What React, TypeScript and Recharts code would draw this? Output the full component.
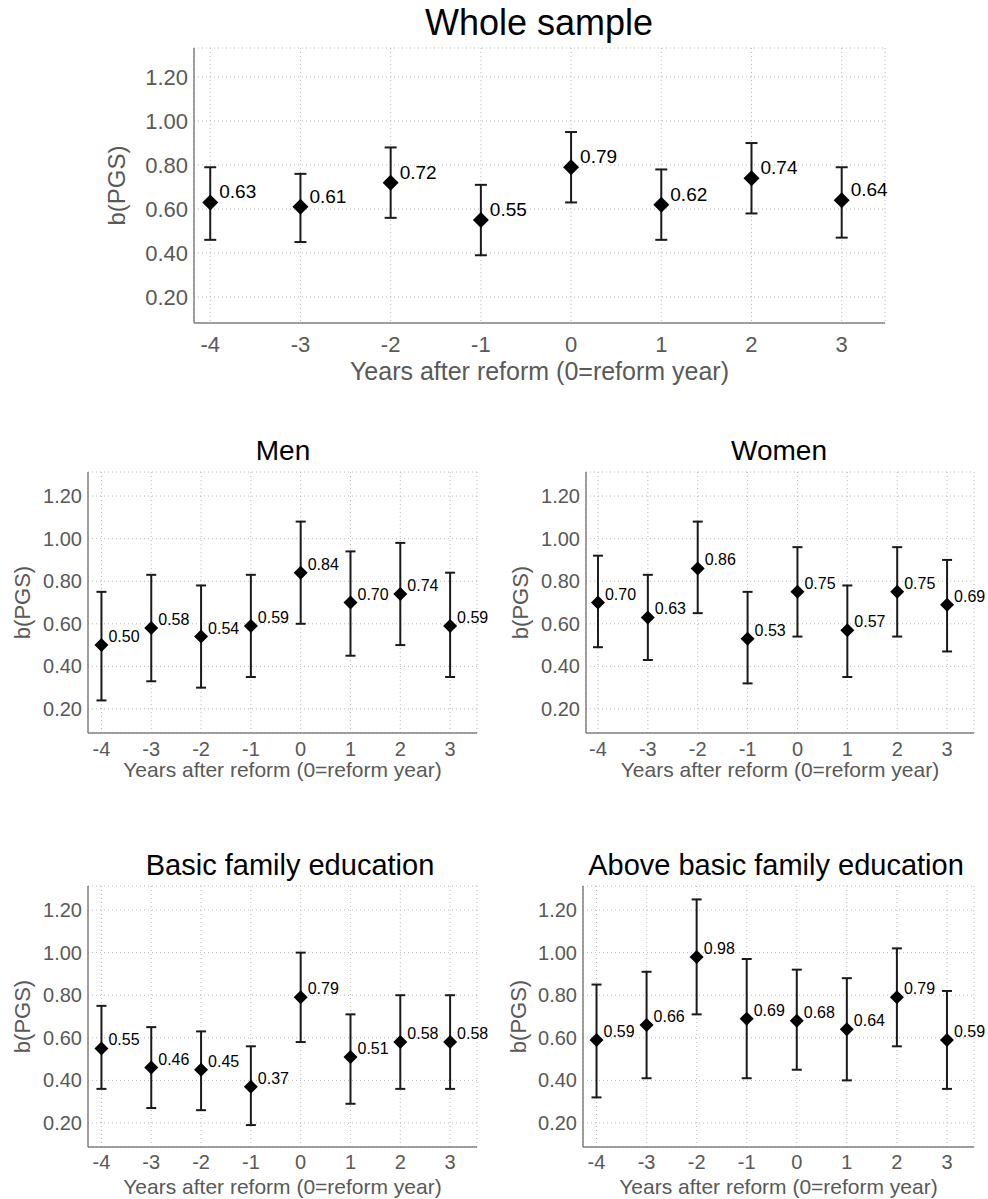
import { ScatterChart, Scatter, XAxis, YAxis, CartesianGrid, ErrorBar } from "recharts";

const years = [-4, -3, -2, -1, 0, 1, 2, 3];
const yTicks = [0.2, 0.4, 0.6, 0.8, 1.0, 1.2];

const wholeB = [0.63, 0.61, 0.72, 0.55, 0.79, 0.62, 0.74, 0.64];
const wholeLo = [0.46, 0.45, 0.56, 0.39, 0.63, 0.46, 0.58, 0.47];
const wholeHi = [0.79, 0.76, 0.88, 0.71, 0.95, 0.78, 0.9, 0.79];

const menB = [0.5, 0.58, 0.54, 0.59, 0.84, 0.7, 0.74, 0.59];
const menLo = [0.24, 0.33, 0.3, 0.35, 0.6, 0.45, 0.5, 0.35];
const menHi = [0.75, 0.83, 0.78, 0.83, 1.08, 0.94, 0.98, 0.84];

const womenB = [0.7, 0.63, 0.86, 0.53, 0.75, 0.57, 0.75, 0.69];
const womenLo = [0.49, 0.43, 0.65, 0.32, 0.54, 0.35, 0.54, 0.47];
const womenHi = [0.92, 0.83, 1.08, 0.75, 0.96, 0.78, 0.96, 0.9];

const basicB = [0.55, 0.46, 0.45, 0.37, 0.79, 0.51, 0.58, 0.58];
const basicLo = [0.36, 0.27, 0.26, 0.19, 0.58, 0.29, 0.36, 0.36];
const basicHi = [0.75, 0.65, 0.63, 0.56, 1.0, 0.71, 0.8, 0.8];

const aboveB = [0.59, 0.66, 0.98, 0.69, 0.68, 0.64, 0.79, 0.59];
const aboveLo = [0.32, 0.41, 0.71, 0.41, 0.45, 0.4, 0.56, 0.36];
const aboveHi = [0.85, 0.91, 1.25, 0.97, 0.92, 0.88, 1.02, 0.82];

const build = (b: number[], lo: number[], hi: number[]) =>
  years.map((year, i) => ({ year, b: b[i], err: [b[i] - lo[i], hi[i] - b[i]] }));

const GRAY = "#595959";
const FONT = "'Liberation Sans', Arial, sans-serif";

// diamond marker with its value printed up and to the right
const makeShape = (r: number, fs: number, dx: number, dy: number) => (props: any) => {
  const { cx, cy, payload } = props;
  return (
    <g>
      <path d={`M${cx},${cy - r}L${cx + r},${cy}L${cx},${cy + r}L${cx - r},${cy}Z`} fill="#000" />
      <text x={cx + dx} y={cy + dy} fontSize={fs} fill="#000">
        {payload.b.toFixed(2)}
      </text>
    </g>
  );
};

type PanelProps = {
  data: any[];
  left: number;
  top: number;
  width: number;
  height: number;
  margin: { top: number; right: number; bottom: number; left: number };
  yAxisWidth: number;
  xAxisHeight: number;
  xDomain: [number, number];
  yDomain: [number, number];
  tickFont: number;
  titleFont: number;
  yLabelFont: number;
  yLabelOffset: number;
  xTickGap: number;
  r: number;
  cap: number;
  valueFont: number;
  valueDx: number;
  valueDy: number;
};

function Panel(p: PanelProps) {
  return (
    <div style={{ position: "absolute", left: p.left, top: p.top }}>
      <ScatterChart width={p.width} height={p.height} margin={p.margin}>
        <CartesianGrid stroke="#b8b8b8" strokeDasharray="1 3" />
        <XAxis
          type="number"
          dataKey="year"
          domain={p.xDomain}
          ticks={years}
          height={p.xAxisHeight}
          tickLine={false}
          tickSize={0}
          tickMargin={p.xTickGap}
          axisLine={{ stroke: "#808080", strokeWidth: 1.5 }}
          tick={{ fill: GRAY, fontSize: p.tickFont }}
          label={{
            value: "Years after reform (0=reform year)",
            position: "insideBottom",
            offset: 0,
            fill: GRAY,
            fontSize: p.titleFont,
          }}
        />
        <YAxis
          type="number"
          dataKey="b"
          domain={p.yDomain}
          ticks={yTicks}
          width={p.yAxisWidth}
          tickLine={false}
          tickSize={0}
          tickMargin={6}
          axisLine={{ stroke: "#808080", strokeWidth: 1.5 }}
          tick={{ fill: GRAY, fontSize: p.tickFont }}
          tickFormatter={(v: number) => v.toFixed(2)}
          label={{
            value: "b(PGS)",
            angle: -90,
            position: "insideLeft",
            offset: p.yLabelOffset,
            fill: GRAY,
            fontSize: p.yLabelFont,
            style: { textAnchor: "middle" },
          }}
        />
        <Scatter
          data={p.data}
          isAnimationActive={false}
          shape={makeShape(p.r, p.valueFont, p.valueDx, p.valueDy)}
        >
          <ErrorBar
            dataKey="err"
            direction="y"
            width={p.cap}
            stroke="#1a1a1a"
            strokeWidth={2}
            isAnimationActive={false}
          />
        </Scatter>
      </ScatterChart>
    </div>
  );
}

const smallCommon = {
  width: 494,
  xDomain: [-4.27, 3.54] as [number, number],
  yDomain: [0.087, 1.313] as [number, number],
  tickFont: 20,
  titleFont: 21,
  yLabelFont: 22,
  r: 7,
  cap: 5,
  valueFont: 16,
  valueDx: 7,
  valueDy: -3,
};

export default function App() {
  return (
    <div
      style={{
        position: "absolute",
        left: 0,
        top: 0,
        width: 988,
        height: 1199,
        background: "#fff",
        fontFamily: FONT,
      }}
    >
      <Panel
        data={build(wholeB, wholeLo, wholeHi)}
        left={0}
        top={0}
        width={988}
        height={400}
        margin={{ top: 48, right: 103, bottom: 20, left: 0 }}
        yAxisWidth={194}
        xAxisHeight={57}
        xDomain={[-4.18, 3.48]}
        yDomain={[0.082, 1.332]}
        tickFont={22}
        titleFont={25}
        yLabelFont={24}
        yLabelOffset={116}
        xTickGap={13}
        r={8}
        cap={6}
        valueFont={19}
        valueDx={9}
        valueDy={-4}
      />
      <Panel
        {...smallCommon}
        data={build(menB, menLo, menHi)}
        left={0}
        top={400}
        height={400}
        margin={{ top: 72, right: 17, bottom: 23, left: 0 }}
        yAxisWidth={88}
        xAxisHeight={44}
        yLabelOffset={22}
        xTickGap={9}
      />
      <Panel
        {...smallCommon}
        data={build(womenB, womenLo, womenHi)}
        left={494}
        top={400}
        height={400}
        margin={{ top: 72, right: 14, bottom: 23, left: 0 }}
        xDomain={[-4.24, 3.54]}
        yAxisWidth={92}
        xAxisHeight={44}
        yLabelOffset={26}
        xTickGap={9}
      />
      <Panel
        {...smallCommon}
        data={build(basicB, basicLo, basicHi)}
        left={0}
        top={800}
        height={399}
        margin={{ top: 86, right: 17, bottom: 5, left: 0 }}
        yAxisWidth={88}
        xAxisHeight={47}
        yLabelOffset={22}
        xTickGap={8}
      />
      <Panel
        {...smallCommon}
        data={build(aboveB, aboveLo, aboveHi)}
        left={494}
        top={800}
        height={399}
        margin={{ top: 86, right: 14, bottom: 5, left: 0 }}
        yAxisWidth={89}
        xAxisHeight={47}
        yLabelOffset={24}
        xTickGap={8}
      />
      <svg
        width={988}
        height={1199}
        style={{ position: "absolute", left: 0, top: 0, pointerEvents: "none" }}
      >
        <text x={539} y={35} fontSize={36} textAnchor="middle" fill="#000">
          Whole sample
        </text>
        <text x={283} y={460} fontSize={28} textAnchor="middle" fill="#000">
          Men
        </text>
        <text x={779} y={460} fontSize={28} textAnchor="middle" fill="#000">
          Women
        </text>
        <text x={290} y={875} fontSize={29} textAnchor="middle" fill="#000">
          Basic family education
        </text>
        <text x={776} y={875} fontSize={29} textAnchor="middle" fill="#000">
          Above basic family education
        </text>
      </svg>
    </div>
  );
}
